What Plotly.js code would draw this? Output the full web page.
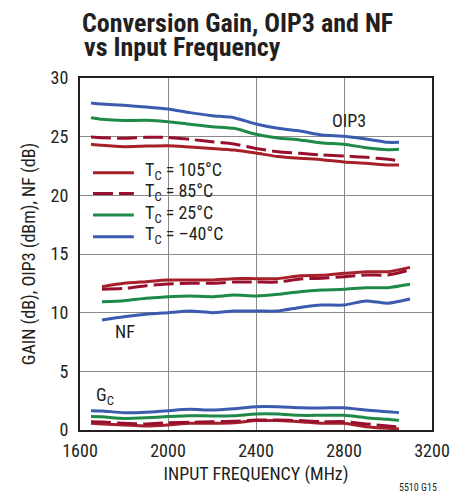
<!DOCTYPE html>
<html>
<head>
<meta charset="utf-8">
<script src="https://cdn.plot.ly/plotly-3.0.1.min.js"></script>
<style>
  html, body { margin: 0; padding: 0; background: #fff; }
  #chart { width: 451px; height: 493px; }
</style>
</head>
<body>
<div id="chart"></div>
<script>
// ---- data ----
const freqA = [1650, 1700, 1800, 1900, 2000, 2100, 2200, 2300, 2400, 2500, 2600, 2700, 2800, 2900, 3000, 3050];
const freqNF = [1700, 1800, 1900, 2000, 2100, 2200, 2300, 2400, 2500, 2600, 2700, 2800, 2900, 3000, 3100];

const temps = ["105°C", "85°C", "25°C", "–40°C"];

const oip3_105 = [24.35, 24.26, 24.15, 24.20, 24.23, 24.12, 24.00, 23.86, 23.60, 23.30, 23.15, 23.04, 22.84, 22.73, 22.58, 22.58];
const oip3_85  = [24.97, 24.91, 24.86, 24.94, 24.94, 24.77, 24.57, 24.38, 24.00, 23.72, 23.58, 23.44, 23.35, 23.24, 23.07, 22.95];
const oip3_25  = [26.62, 26.48, 26.37, 26.39, 26.28, 26.05, 25.85, 25.71, 25.20, 24.89, 24.72, 24.46, 24.35, 24.06, 23.89, 23.92];
const oip3_m40 = [27.87, 27.78, 27.67, 27.53, 27.36, 27.05, 26.79, 26.62, 26.08, 25.71, 25.48, 25.14, 25.03, 24.80, 24.52, 24.52];

const nf_105 = [12.21, 12.50, 12.64, 12.78, 12.78, 12.78, 12.90, 12.90, 12.90, 13.15, 13.18, 13.35, 13.49, 13.49, 13.86];
const nf_85  = [11.99, 12.07, 12.30, 12.44, 12.50, 12.50, 12.61, 12.61, 12.61, 12.87, 12.93, 13.07, 13.21, 13.21, 13.64];
const nf_25  = [10.94, 11.02, 11.22, 11.36, 11.42, 11.36, 11.50, 11.42, 11.56, 11.79, 11.93, 11.99, 12.13, 12.13, 12.42];
const nf_m40 = [9.38, 9.66, 9.86, 10.00, 10.14, 10.00, 10.14, 10.14, 10.14, 10.45, 10.65, 10.65, 11.00, 10.80, 11.16];

const gc_105 = [0.57, 0.52, 0.43, 0.34, 0.43, 0.57, 0.57, 0.62, 0.80, 0.80, 0.71, 0.57, 0.57, 0.28, 0.14, 0.09];
const gc_85  = [0.71, 0.68, 0.57, 0.52, 0.62, 0.66, 0.71, 0.74, 0.85, 0.85, 0.80, 0.71, 0.71, 0.52, 0.34, 0.26];
const gc_25  = [1.14, 1.12, 0.99, 1.04, 1.14, 1.22, 1.20, 1.22, 1.36, 1.36, 1.25, 1.25, 1.25, 1.05, 0.91, 0.82];
const gc_m40 = [1.65, 1.62, 1.48, 1.52, 1.65, 1.76, 1.70, 1.82, 1.99, 1.99, 1.90, 1.88, 1.90, 1.70, 1.56, 1.48];

const xTicks = [1600, 2000, 2400, 2800, 3200];
const yTicks = [0, 5, 10, 15, 20, 25, 30];

// ---- styles ----
const FONT = "'Liberation Sans Narrow', 'Arial Narrow', 'Roboto Condensed', 'Liberation Sans', sans-serif";
const INK = "#231f20";
const styles = [
  { color: "#A6202A", dash: "solid" },
  { color: "#98102E", dash: "20px,6px" },
  { color: "#1F8A48", dash: "solid" },
  { color: "#3A5BAE", dash: "solid" }
];

const groups = [
  { x: freqA,  ys: [oip3_105, oip3_85, oip3_25, oip3_m40] },
  { x: freqNF, ys: [nf_105, nf_85, nf_25, nf_m40] },
  { x: freqA,  ys: [gc_105, gc_85, gc_25, gc_m40] }
];

const traces = [];
groups.forEach(g => {
  g.ys.forEach((y, i) => {
    traces.push({
      x: g.x, y: y, type: "scatter", mode: "lines",
      name: "T<sub>C</sub> = " + temps[i],
      legendgroup: "t" + i,
      showlegend: false,
      line: { color: styles[i].color, dash: styles[i].dash, width: 3, shape: "spline", smoothing: 0.6 },
      hoverinfo: "skip"
    });
  });
});

// ---- hand-placed legend (paper coordinates of the plot area) ----
const legRowsY = [0.731, 0.672, 0.611, 0.549];
const legShapes = [
  { type: "rect", xref: "paper", yref: "paper", x0: 0.023, x1: 0.432, y0: 0.517, y1: 0.767,
    fillcolor: "#fff", line: { width: 0 }, layer: "between" }
];
const legAnn = [];
temps.forEach((t, i) => {
  legShapes.push({
    type: "line", xref: "paper", yref: "paper",
    x0: 0.037, x1: 0.153, y0: legRowsY[i], y1: legRowsY[i],
    line: { color: styles[i].color, width: 3, dash: styles[i].dash }, layer: "above"
  });
  legAnn.push({
    text: "T<sub>C</sub> = " + t, xref: "paper", yref: "paper",
    x: 0.18, y: legRowsY[i] + 0.004, xanchor: "left", yanchor: "middle",
    showarrow: false, font: { size: 18 }
  });
});

const layout = {
  width: 451, height: 493,
  margin: { l: 80, r: 19, t: 78, b: 63, pad: 0 },
  paper_bgcolor: "#fff", plot_bgcolor: "#fff",
  font: { family: FONT, size: 18, color: INK },
  showlegend: false,
  title: {
    text: "<b>Conversion Gain, OIP3 and NF</b>",
    xref: "container", yref: "container",
    x: 82 / 451, xanchor: "left",
    y: 1 - 32 / 493, yanchor: "bottom",
    font: { family: FONT, size: 26, color: INK },
    pad: { t: 0, b: 0, l: 0, r: 0 }
  },
  xaxis: {
    range: [1600, 3200], tickvals: xTicks, ticktext: xTicks.map(String),
    showgrid: true, gridcolor: "#8a8a8a", gridwidth: 1,
    showline: true, mirror: true, linecolor: INK, linewidth: 2,
    ticks: "", zeroline: false, ticklabelstandoff: 3,
    tickfont: { size: 18 },
    title: { text: "INPUT FREQUENCY (MHz)", font: { size: 18 }, standoff: 8 }
  },
  yaxis: {
    range: [0, 30], tickvals: yTicks, ticktext: yTicks.map(String),
    showgrid: true, gridcolor: "#8a8a8a", gridwidth: 1,
    showline: true, mirror: true, linecolor: INK, linewidth: 2,
    ticks: "", zeroline: false, ticklabelstandoff: 6,
    tickfont: { size: 18 },
    title: { text: "GAIN (dB), OIP3 (dBm), NF (dB)", font: { size: 18 }, standoff: 10 }
  },
  shapes: legShapes,
  annotations: [
    { text: "<b>vs Input Frequency</b>", xref: "paper", yref: "paper",
      x: 2 / 352, y: 1 + (78 - 64) / 352, xanchor: "left", yanchor: "bottom",
      showarrow: false, font: { family: FONT, size: 26, color: INK } },
    { text: "OIP3", x: 2823, y: 26.38, xref: "x", yref: "y", showarrow: false, font: { size: 18 } },
    { text: "NF", x: 1805, y: 8.4, xref: "x", yref: "y", showarrow: false, font: { size: 18 } },
    { text: "G<sub>C</sub>", x: 1712, y: 2.9, xref: "x", yref: "y", showarrow: false, font: { size: 18 } },
    { text: "5510 G15", xref: "paper", yref: "paper", x: 1.02, y: -(487 - 430) / 352,
      xanchor: "right", yanchor: "middle", showarrow: false, font: { size: 10 } }
  ].concat(legAnn)
};

Plotly.newPlot("chart", traces, layout, { displayModeBar: false, staticPlot: true });
</script>
</body>
</html>
